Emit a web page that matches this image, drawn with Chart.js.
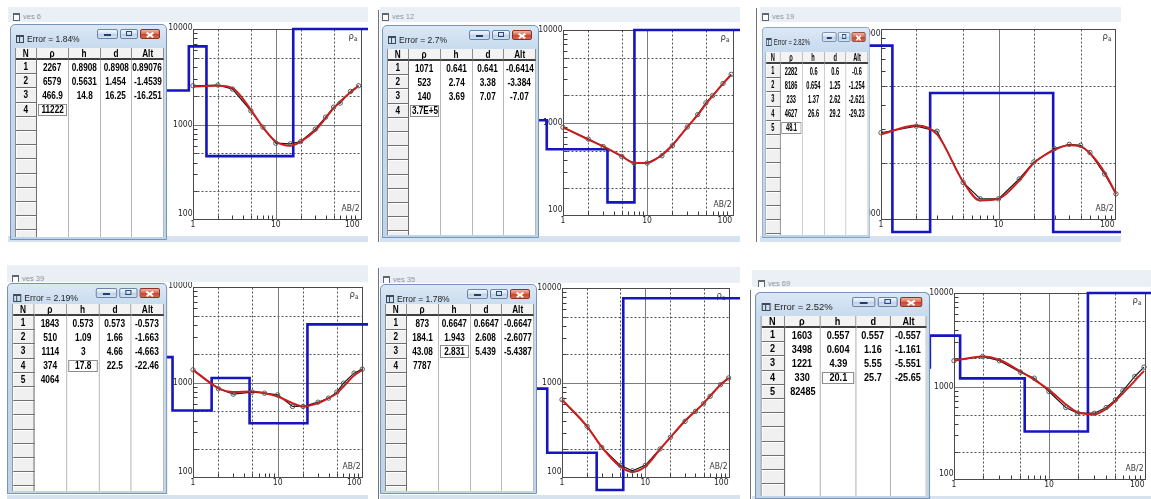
<!DOCTYPE html>
<html lang="en">
<head>
<meta charset="utf-8">
<title>VES inversion results</title>
<script src="https://cdn.jsdelivr.net/npm/chart.js@4.4.1/dist/chart.umd.min.js"></script>
<style>
html, body { margin: 0; padding: 0; background: #fff; }
body { position: relative; width: 1151px; height: 499px; overflow: hidden; font-family: "Liberation Sans", Arial, sans-serif; }
.win { position: absolute; overflow: hidden; background: linear-gradient(#ebf0f6, #e2e9f1 70%, #d6e2ee); }
.win canvas { position: absolute; background: #fff; }
.win .ico { position: absolute; width: 5px; height: 5px; border: 1px solid #5d6773; border-top-width: 2px; background: #fff; }
.win .cap { position: absolute; font-size: 7.5px; line-height: 8px; color: #8d96a1; white-space: nowrap; }
.sep { position: absolute; width: 1px; background: #70757c; }
.tw { position: absolute; width: 157px; box-sizing: border-box; border: 1px solid #7894b6; border-radius: 5px 5px 0 0;
      background: linear-gradient(#dce8f5, #c9dcef 20px, #bfd3ea); transform-origin: 0 0; overflow: hidden; }
.tw .tico { position: absolute; left: 5px; top: 10px; width: 8px; height: 8px; box-sizing: border-box; border: 1px solid #3f4b58; border-top-width: 2px; }
.tw .tico::after { content: ''; position: absolute; left: 2px; top: 0; width: 1px; height: 100%; background: #3f4b58; }
.tw .ttl { position: absolute; left: 16px; top: 9px; font-size: 8.5px; line-height: 11px; color: #1c1c1c; white-space: nowrap; }
.tw .btn { position: absolute; top: 4px; height: 10px; box-sizing: border-box; border: 1px solid #6b84a5; border-radius: 2px;
           background: linear-gradient(#f2f6fb, #d6e2ef 45%, #bccfe5 50%, #d3e1f0); }
.tw .btn.cls { border-color: #8a3324; background: linear-gradient(#f0b3a4, #d9705a 45%, #c7432b 50%, #d6694f); }
.tw .btn .g { position: absolute; }
.tw .grid { position: absolute; left: 4px; width: 149px; background: #fff; overflow: hidden; border-left: 1px solid #8c8c8c; box-sizing: border-box; }
.c { position: absolute; box-sizing: border-box; display: flex; justify-content: center; align-items: center; color: #000;
     white-space: nowrap; overflow: hidden; font: bold 10px "Liberation Sans", Arial, sans-serif; }
.c span { flex: none; transform: scaleX(0.82); }
.c.hd { background: #f3f3f3; border-right: 1px solid #8c8c8c; border-bottom: 2px solid #404040; }
.c.nc { background: #f0f0f0; border-right: 1px solid #6f6f6f; border-bottom: 1px solid #6f6f6f; box-shadow: inset 1px 1px 0 #fff; }
.c.fc { border: 1px solid #8d8d8d; }
.vl { position: absolute; width: 1px; background: #b8b8b8; }
</style>
</head>
<body>
<script>
// AB/2 spacings (m), same for every sounding
const abHalf = [1, 2, 3, 5, 7, 10, 15, 20, 30, 40, 50, 60, 80, 100];
const xTickLabels = [1, 10, 100];
const yTickLabels = [100, 1000, 10000];
const xDotted = [2, 5, 20, 50];
const xSolid = [10];
const yDotted = [200, 500, 2000, 5000];
const ySolid = [1000];
const tableHeads = ['N', 'ρ', 'h', 'd', 'Alt'];

// ves 6
const ves6Error = 'Error = 1.84%';
const ves6Rho = ['2267', '6579', '466.9', '11222'];
const ves6H = ['0.8908', '0.5631', '14.8'];
const ves6D = ['0.8908', '1.454', '16.25'];
const ves6Alt = ['0.89076', '-1.4539', '-16.251'];
const ves6Obs = [2545, 2590, 2350, 1390, 937, 637, 627, 663, 893, 1194, 1521, 1675, 2220, 2545];
const ves6Fit = [2506, 2545, 2405, 1426, 931, 663, 598, 663, 865, 1165, 1483, 1741, 2168, 2545];

// ves 12
const ves12Error = 'Error = 2.7%';
const ves12Rho = ['1071', '523', '140', '3.7E+5'];
const ves12H = ['0.641', '2.74', '3.69'];
const ves12D = ['0.641', '3.38', '7.07'];
const ves12Alt = ['-0.6414', '-3.384', '-7.07'];
const ves12Obs = [898, 671, 559, 437, 370, 370, 444, 569, 905, 1231, 1644, 1973, 2660, 3335];
const ves12Fit = [898, 665, 560, 440, 372, 372, 455, 580, 900, 1220, 1600, 1950, 2650, 3300];

// ves 19
const ves19Error = 'Error = 2.82%';
const ves19Rho = ['2282', '8186', '233', '4627', '48.1'];
const ves19H = ['0.6', '0.654', '1.37', '26.6'];
const ves19D = ['0.6', '1.25', '2.62', '29.2'];
const ves19Alt = ['-0.6', '-1.254', '-2.621', '-29.23'];
const ves19Obs = [2862, 3099, 2917, 1573, 1291, 1291, 1640, 2015, 2364, 2489, 2460, 2254, 1740, 1370];
const ves19Fit = [2810, 3126, 2805, 1588, 1265, 1291, 1607, 1986, 2330, 2462, 2423, 2235, 1774, 1370];

// ves 39
const ves39Error = 'Error = 2.19%';
const ves39Rho = ['1843', '510', '1114', '374', '4064'];
const ves39H = ['0.573', '1.09', '3', '17.8'];
const ves39D = ['0.573', '1.66', '4.66', '22.5'];
const ves39Alt = ['-0.573', '-1.663', '-4.663', '-22.46'];
const ves39Obs = [1357, 859, 755, 793, 773, 743, 561, 561, 622, 686, 793, 984, 1253, 1380];
const ves39Fit = [1357, 872, 793, 805, 773, 713, 608, 561, 608, 686, 773, 908, 1184, 1357];

// ves 35
const ves35Error = 'Error = 1.78%';
const ves35Rho = ['873', '184.1', '43.08', '7787'];
const ves35H = ['0.6647', '1.943', '2.831'];
const ves35D = ['0.6647', '2.608', '5.439'];
const ves35Alt = ['-0.6647', '-2.6077', '-5.4387'];
const ves35Obs = [668, 350, 210, 136, 119, 136, 202, 268, 395, 503, 606, 724, 960, 1129];
const ves35Fit = [668, 350, 212, 132, 116, 132, 200, 268, 400, 505, 610, 730, 960, 1129];

// ves 69
const ves69Error = 'Error = 2.52%';
const ves69Rho = ['1603', '3498', '1221', '330', '82485'];
const ves69H = ['0.557', '0.604', '4.39', '20.1'];
const ves69D = ['0.557', '1.16', '5.55', '25.7'];
const ves69Alt = ['-0.557', '-1.161', '-5.551', '-25.65'];
const ves69Obs = [1884, 2096, 1884, 1425, 1228, 884, 596, 518, 518, 596, 720, 899, 1280, 1611];
const ves69Fit = [1884, 2096, 1930, 1448, 1179, 921, 647, 531, 505, 576, 702, 848, 1150, 1471];

// screen layout of the six windows (page pixels)
const panels = [
  { name: 'ves 6', err: ves6Error, rho: ves6Rho, h: ves6H, d: ves6D, alt: ves6Alt, obs: ves6Obs, fit: ves6Fit, focus: [3, 0],
    win: [8, 7, 360, 235], icon: [13, 13], client: [8, 22, 360, 214], frame: [193, 29, 362, 220], xMax: 110, yMin: 100,
    topLabel: -1, table: [10, 24, 1, 216], capH: 23 },
  { name: 'ves 12', err: ves12Error, rho: ves12Rho, h: ves12H, d: ves12D, alt: ves12Alt, obs: ves12Obs, fit: ves12Fit, focus: [3, 0],
    win: [380, 7, 360, 235], icon: [382, 13], client: [381, 22, 359, 214], frame: [563, 30, 734, 216], xMax: 108, yMin: 100,
    topLabel: 0, table: [382, 25, 1, 213], capH: 23 },
  { name: 'ves 19', err: ves19Error, rho: ves19Rho, h: ves19H, d: ves19D, alt: ves19Alt, obs: ves19Obs, fit: ves19Fit, focus: [4, 0],
    win: [760, 7, 361, 235], icon: [762, 13], client: [760, 22, 361, 214], frame: [881, 29, 1116, 220], xMax: 100, yMin: 1000,
    topLabel: 5, table: [762, 27, 0.69, 211], capH: 24 },
  { name: 'ves 39', err: ves39Error, rho: ves39Rho, h: ves39H, d: ves39D, alt: ves39Alt, obs: ves39Obs, fit: ves39Fit, focus: [3, 1],
    win: [7, 265, 361, 234], icon: [12, 275], client: [7, 282, 361, 213], frame: [193, 287, 363, 478], xMax: 102, yMin: 100,
    topLabel: -1, table: [7, 283, 1.02, 211], capH: 20 },
  { name: 'ves 35', err: ves35Error, rho: ves35Rho, h: ves35H, d: ves35D, alt: ves35Alt, obs: ves35Obs, fit: ves35Fit, focus: [2, 1],
    win: [380, 267, 360, 232], icon: [383, 276], client: [380, 283, 360, 212], frame: [562, 288, 730, 478], xMax: 104, yMin: 100,
    topLabel: 0, table: [380, 284, 1, 210], capH: 19 },
  { name: 'ves 69', err: ves69Error, rho: ves69Rho, h: ves69H, d: ves69D, alt: ves69Alt, obs: ves69Obs, fit: ves69Fit, focus: [3, 1],
    win: [752, 270, 399, 229], icon: [758, 280], client: [752, 287, 399, 209], frame: [954, 293, 1146, 480], xMax: 105, yMin: 100,
    topLabel: 0, table: [755, 292, 1.115, 207], capH: 23 }
];
const seps = [[378, 10, 232], [756, 8, 234], [378, 268, 231], [750, 290, 209]];

const Y_MAX = 10000;
const ROW = 14.2;
const COLS = [1, 22, 54, 86, 117, 149];
const LABEL_FONT = '"Liberation Sans Narrow", "Arial Narrow", "DejaVu Sans Condensed", sans-serif';

const px = v => v + 'px';
function el(tag, cls, parent, css) {
  const e = document.createElement(tag);
  if (cls) e.className = cls;
  if (css) Object.assign(e.style, css);
  parent.appendChild(e);
  return e;
}
function cellText(cell, text) {
  el('span', null, cell).textContent = text;
}

// layered model -> step line, values kept inside the window like the program does
function modelSteps(rho, d, lo, hi) {
  const v = rho.map(Number).map(r => Math.min(Math.max(r, lo), hi));
  const pts = [{x: 0.1, y: v[0]}];
  d.map(Number).forEach((dep, i) => {
    pts.push({x: dep, y: v[i]}, {x: dep, y: v[i + 1]});
  });
  pts.push({x: 1000, y: v[v.length - 1]});
  return pts;
}

const pairs = (xs, ys) => xs.map((x, i) => ({x: x, y: ys[i]}));

// frame, grid, minor ticks and labels of the apparent resistivity plot
const vesFrame = {
  id: 'vesFrame',
  beforeDatasetsDraw(chart, args, opts) {
    const {ctx, chartArea: a, scales: {x, y}} = chart;
    const L = Math.round(a.left) + 0.5, R = Math.round(a.right) - 0.5;
    const T = Math.round(a.top) + 0.5, B = Math.round(a.bottom) - 0.5;
    const xp = v => Math.round(x.getPixelForValue(v)) + 0.5;
    const yp = v => Math.round(y.getPixelForValue(v)) + 0.5;
    ctx.save();
    ctx.lineWidth = 1;

    ctx.strokeStyle = '#3a3a3a';
    ctx.beginPath();
    for (let dec = 1; dec < x.max; dec *= 10) {
      for (let m = 2; m <= 9; m++) {
        if (m * dec >= x.max) break;
        ctx.moveTo(xp(m * dec), B);
        ctx.lineTo(xp(m * dec), B - 4);
      }
    }
    for (let dec = y.min; dec < y.max; dec *= 10) {
      for (let m = 2; m <= 9; m++) {
        if (m * dec >= y.max) break;
        ctx.moveTo(L, yp(m * dec));
        ctx.lineTo(L + 4, yp(m * dec));
      }
    }
    ctx.stroke();

    ctx.setLineDash([2, 2]);
    ctx.strokeStyle = '#505050';
    ctx.beginPath();
    xDotted.filter(v => v > x.min && v < x.max).forEach(v => { ctx.moveTo(xp(v), T); ctx.lineTo(xp(v), B); });
    yDotted.filter(v => v > y.min && v < y.max).forEach(v => { ctx.moveTo(L, yp(v)); ctx.lineTo(R, yp(v)); });
    ctx.stroke();
    ctx.setLineDash([]);

    ctx.strokeStyle = '#7c7c7c';
    ctx.beginPath();
    xSolid.filter(v => v > x.min && v < x.max).forEach(v => { ctx.moveTo(xp(v), T); ctx.lineTo(xp(v), B); });
    ySolid.filter(v => v > y.min && v < y.max).forEach(v => { ctx.moveTo(L, yp(v)); ctx.lineTo(R, yp(v)); });
    ctx.stroke();

    ctx.strokeStyle = '#4a4a4a';
    ctx.strokeRect(L, T, R - L, B - T);

    // tick labels
    ctx.fillStyle = '#262626';
    ctx.font = '8.5px ' + LABEL_FONT;
    ctx.textBaseline = 'middle';
    ctx.textAlign = 'right';
    yTickLabels.filter(v => v >= y.min && v <= y.max).forEach(v => {
      const off = v === y.min ? -6 : (v === y.max ? (opts.topLabel || 0) : 0);
      ctx.fillText(String(v), L - 1, y.getPixelForValue(v) + off);
    });
    xTickLabels.filter(v => v >= x.min && v <= x.max).forEach((v, i, arr) => {
      const last = i === arr.length - 1;
      ctx.textAlign = last ? 'right' : 'center';
      const xx = last ? Math.min(x.getPixelForValue(v) + 1, R - 1) : x.getPixelForValue(v);
      ctx.fillText(String(v), xx, B + 5);
    });

    // axis names
    ctx.fillStyle = '#3a3a3a';
    ctx.textBaseline = 'alphabetic';
    ctx.textAlign = 'right';
    ctx.font = '6.5px ' + LABEL_FONT;
    const aw = ctx.measureText('a').width;
    ctx.fillText('a', R - 4, T + 11);
    ctx.font = '9.5px ' + LABEL_FONT;
    ctx.fillText('ρ', R - 4 - aw, T + 9);
    ctx.font = '8.5px ' + LABEL_FONT;
    ctx.fillText('AB/2', R - 2, B - 9);
    ctx.restore();
  }
};

function buildWindow(p) {
  const [wx, wy, ww, wh] = p.win;
  const w = el('div', 'win', document.body, {left: px(wx), top: px(wy), width: px(ww), height: px(wh)});
  el('div', 'ico', w, {left: px(p.icon[0] - wx), top: px(p.icon[1] - wy)});
  const cap = el('div', 'cap', w, {left: px(p.icon[0] - wx + 10), top: px(p.icon[1] - wy)});
  cap.textContent = p.name;
  const [cx, cy, cw, ch] = p.client;
  const cv = el('canvas', null, w, {left: px(cx - wx), top: px(cy - wy)});
  cv.width = cw;
  cv.height = ch;
  return cv;
}

function buildChart(p, cv) {
  const [cx, cy, cw, ch] = p.client;
  const [fl, ft, fr, fb] = p.frame;
  const decade = (fb - ft) / Math.log10(Y_MAX / p.yMin);
  const floor = p.yMin * Math.pow(10, -12 / decade);
  const setX = s => { s.min = 1; s.max = p.xMax; };

  new Chart(cv.getContext('2d'), {
    type: 'line',
    data: {
      datasets: [{
        label: 'Model',
        data: modelSteps(p.rho, p.d, floor, Y_MAX),
        borderColor: '#1515c2',
        borderWidth: 2.6,
        pointRadius: 0,
        clip: false,
        order: 4
      }, {
        label: 'Field',
        data: pairs(abHalf, p.obs),
        borderColor: '#1a1a1a',
        borderWidth: 1.2,
        pointRadius: 0,
        clip: false,
        order: 3
      }, {
        label: 'Calculated',
        data: pairs(abHalf, p.fit),
        borderColor: '#cf1b1b',
        borderWidth: 2,
        pointRadius: 0,
        cubicInterpolationMode: 'monotone',
        clip: false,
        order: 2
      }, {
        label: 'Points',
        data: pairs(abHalf, p.obs),
        showLine: false,
        pointRadius: 2.2,
        pointBorderWidth: 1,
        pointBorderColor: '#5a5a5a',
        pointBackgroundColor: 'rgba(255,255,255,0)',
        clip: false,
        order: 1
      }]
    },
    options: {
      responsive: false,
      animation: false,
      devicePixelRatio: 1,
      events: [],
      layout: {padding: {left: fl - cx, top: ft - cy, right: cx + cw - fr, bottom: cy + ch - fb}},
      plugins: {legend: {display: false}, tooltip: {enabled: false}, vesFrame: {topLabel: p.topLabel}},
      scales: {
        x: {type: 'logarithmic', display: false, bounds: 'data', afterDataLimits: setX, afterBuildTicks: setX},
        y: {type: 'logarithmic', display: false, min: p.yMin, max: Y_MAX}
      }
    },
    plugins: [vesFrame]
  });
}

function buildTable(p) {
  const [tx, ty, sx, th] = p.table;
  const tw = el('div', 'tw', document.body, {left: px(tx), top: px(ty), height: px(th), transform: 'scaleX(' + sx + ')'});
  el('div', 'tico', tw);
  const ttl = el('div', 'ttl', tw);
  ttl.textContent = p.err;

  const bMin = el('div', 'btn', tw, {left: '86px', width: '21px'});
  el('div', 'g', bMin, {left: '6px', top: '4px', width: '7px', height: '2px', background: '#1f3f6e'});
  const bMax = el('div', 'btn', tw, {left: '109px', width: '18px'});
  el('div', 'g', bMax, {left: '5px', top: '1px', width: '6px', height: '5px', border: '1px solid #2a4a78', boxSizing: 'border-box'});
  const bCls = el('div', 'btn cls', tw, {left: '129px', width: '20px'});
  el('div', 'g', bCls, {left: '5px', top: '3.5px', width: '8px', height: '1.6px', background: '#fff', transform: 'rotate(35deg)'});
  el('div', 'g', bCls, {left: '5px', top: '3.5px', width: '8px', height: '1.6px', background: '#fff', transform: 'rotate(-35deg)'});

  const gh = th - p.capH - 4;
  const grid = el('div', 'grid', tw, {top: px(p.capH), height: px(gh)});
  tableHeads.forEach((t, i) => {
    const c = el('div', 'c hd', grid, {left: px(COLS[i] - 1), top: '0px', width: px(COLS[i + 1] - COLS[i]), height: '12px'});
    cellText(c, t);
  });
  for (let i = 2; i < COLS.length; i++) {
    el('div', 'vl', grid, {left: px(COLS[i] - 2), top: '12px', height: px(gh - 12)});
  }
  const nRows = Math.ceil((gh - 12) / ROW);
  for (let r = 0; r < nRows; r++) {
    const top = 12 + r * ROW;
    const n = el('div', 'c nc', grid, {left: px(COLS[0] - 1), top: px(top), width: px(COLS[1] - COLS[0]), height: px(ROW)});
    if (r < p.rho.length) cellText(n, String(r + 1));
    [p.rho, p.h, p.d, p.alt].forEach((col, j) => {
      if (col[r] === undefined) return;
      const focus = p.focus[0] === r && p.focus[1] === j;
      const inset = focus ? 1 : 0;
      const c = el('div', focus ? 'c fc' : 'c', grid, {
        left: px(COLS[j + 1] - 1 + inset), top: px(top + inset),
        width: px(COLS[j + 2] - COLS[j + 1] - 1 - 2 * inset), height: px(ROW - 2 * inset)
      });
      cellText(c, col[r]);
    });
  }
}

panels.forEach(p => buildChart(p, buildWindow(p)));
seps.forEach(s => el('div', 'sep', document.body, {left: px(s[0]), top: px(s[1]), height: px(s[2])}));
panels.forEach(buildTable);
</script>
</body>
</html>
